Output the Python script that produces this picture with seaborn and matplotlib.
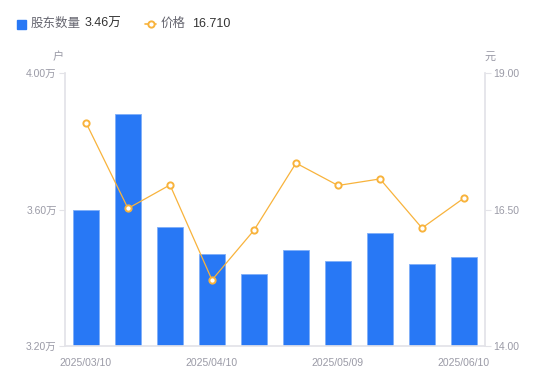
import matplotlib
matplotlib.use("Agg")
import matplotlib.pyplot as plt
import seaborn as sns
import numpy as np
import pandas as pd
from matplotlib.lines import Line2D

dates = ["2025/03/10", "2025/03/20", "2025/03/31", "2025/04/10", "2025/04/18",
         "2025/04/30", "2025/05/09", "2025/05/20", "2025/05/30", "2025/06/10"]
holders = [3.60, 3.88, 3.55, 3.47, 3.41, 3.48, 3.45, 3.53, 3.44, 3.46]  # 万户
prices = [18.09, 16.52, 16.95, 15.21, 16.12, 17.35, 16.94, 17.06, 16.16, 16.71]
left_ticks = [3.20, 3.60, 4.00]
right_ticks = [14.00, 16.50, 19.00]
shown_dates = ["2025/03/10", "2025/04/10", "2025/05/09", "2025/06/10"]

sns.set_theme(style="white")
FAM = ["Liberation Sans", "Noto Sans CJK SC", "DejaVu Sans"]
plt.rcParams["font.family"] = FAM

BLUE = "#2878F5"
ORANGE = "#F8B33C"
GRAY = "#9A9AA6"
AXC = "#E3E3E8"

df = pd.DataFrame({"date": dates, "holders": holders, "price": prices, "idx": np.arange(len(dates))})

fig = plt.figure(figsize=(5.5, 3.81), dpi=100)
ax = fig.add_axes([65/550, 35/381, 420/550, 273/381])

sns.barplot(data=df, x="date", y="holders", ax=ax, color=BLUE, width=0.6,
            edgecolor="#7FAEF8", linewidth=0.6, saturation=1)
ax.set_ylim(3.20, 4.00)
ax.set_xlim(-0.5, len(dates) - 0.5)
ax.set_yticks(left_ticks)
ax.set_yticklabels([f"{v:.2f}万" for v in left_ticks])
ax.set_xticks([dates.index(d) for d in shown_dates])
ax.set_xticklabels(shown_dates)
ax.set_xlabel("")
ax.set_ylabel("")

ax2 = ax.twinx()
sns.lineplot(data=df, x="idx", y="price", ax=ax2, color=ORANGE, linewidth=0.9,
             marker="o", markersize=4.5, markerfacecolor="white",
             markeredgecolor=ORANGE, markeredgewidth=1.4)
ax2.set_ylim(14.0, 19.0)
ax2.set_yticks(right_ticks)
ax2.set_yticklabels([f"{v:.2f}" for v in right_ticks])
ax2.set_xlim(-0.5, len(dates) - 0.5)
ax2.set_xlabel("")
ax2.set_ylabel("")

for a in (ax, ax2):
    for s in a.spines.values():
        s.set_visible(False)
    a.grid(False)
ax.spines["left"].set_visible(True)
ax.spines["left"].set_color(AXC)
ax.spines["bottom"].set_visible(True)
ax.spines["bottom"].set_color(AXC)
ax2.spines["right"].set_visible(True)
ax2.spines["right"].set_color(AXC)

ax.tick_params(axis="y", left=True, length=4, width=0.8, color=AXC, labelsize=7.5,
               labelcolor=GRAY, pad=2)
ax.tick_params(axis="x", bottom=False, labelsize=7.5, labelcolor=GRAY, pad=3)
ax2.tick_params(axis="y", right=True, length=4, width=0.8, color=AXC, labelsize=7.5,
                labelcolor=GRAY, pad=2)

fig.text(58/550, 1 - 57/381, "户", fontsize=8, color=GRAY, ha="center", va="center")
fig.text(490/550, 1 - 57/381, "元", fontsize=8, color=GRAY, ha="center", va="center")

# legend
ly = 1 - 24/381
fig.patches.append(plt.Rectangle((17/550, 1 - 29/381), 9/550, 9/381, transform=fig.transFigure,
                                 color=BLUE, figure=fig))
fig.text(31/550, ly, "股东数量", fontsize=9, color="#666670", ha="left", va="center")
fig.text(85/550, ly, f"{holders[-1]:.2f}万", fontsize=9, color="#333333", ha="left", va="center")
fig.lines.append(Line2D([145/550, 156/550], [ly, ly], transform=fig.transFigure, color=ORANGE,
                        linewidth=1.2, marker="o", markevery=[0], markersize=0, figure=fig))
fig.lines.append(Line2D([150.5/550], [ly], transform=fig.transFigure, color=ORANGE, marker="o",
                        markersize=4.5, markerfacecolor="white", markeredgecolor=ORANGE,
                        markeredgewidth=1.4, linestyle="none", figure=fig))
fig.text(161/550, ly, "价格", fontsize=9, color="#666670", ha="left", va="center")
fig.text(192/550, ly, f"{prices[-1]:.3f}", fontsize=9, color="#333333", ha="left", va="center")

fig.savefig("out.png", dpi=100)
